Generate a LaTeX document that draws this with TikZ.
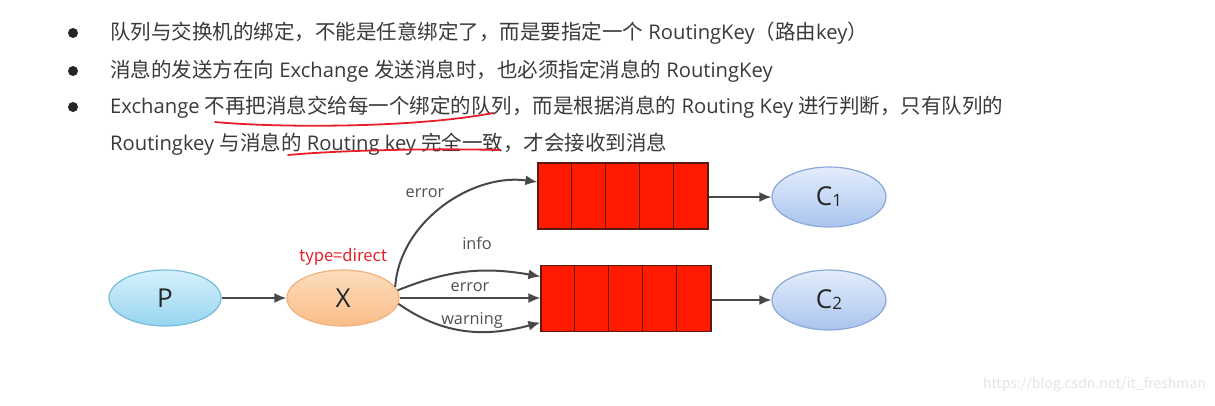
\documentclass[tikz,border=0pt]{standalone}
\usepackage{fontspec}
\setmainfont{Noto Sans CJK SC}
\newfontfamily\latfont{Open Sans}
\newcommand{\latw}[1]{{\latfont\fontsize{20.2}{22}\selectfont #1}}
\usetikzlibrary{arrows.meta,shapes.geometric}
\definecolor{txt}{HTML}{3A3A3A}
\definecolor{lbl}{HTML}{505050}
\definecolor{arr}{HTML}{484848}
\definecolor{qred}{HTML}{FF1A00}
\definecolor{qline}{HTML}{5A1A10}
\definecolor{pen}{HTML}{E8202A}
\definecolor{ptop}{HTML}{D6F1FC}
\definecolor{pbot}{HTML}{96D4F0}
\definecolor{pbrd}{HTML}{78BCD8}
\definecolor{xtop}{HTML}{FDDDBE}
\definecolor{xbot}{HTML}{F9BD88}
\definecolor{xbrd}{HTML}{F2B07A}
\definecolor{ctop}{HTML}{E4EDFB}
\definecolor{cbot}{HTML}{A9C4EE}
\definecolor{cbrd}{HTML}{8AA8D8}
\tikzset{
  bodytext/.style={anchor=west, inner sep=0pt, text=txt, font=\fontsize{20.5}{22}\selectfont},
  bulletdot/.style={circle, fill=black!85, minimum size=10pt, inner sep=0pt},
  ell/.style={ellipse, minimum width=112pt, minimum height=56pt, line width=1.2pt, font=\latfont\fontsize{26}{30}\selectfont, text=black!85},
  pell/.style={ell, draw=pbrd, top color=ptop, bottom color=pbot},
  xell/.style={ell, draw=xbrd, top color=xtop, bottom color=xbot},
  cell/.style={ell, minimum width=114pt, minimum height=60pt, draw=cbrd, top color=ctop, bottom color=cbot},
  queue/.style={rectangle, minimum width=170pt, minimum height=66pt, fill=qred, draw=qline, line width=1.2pt, inner sep=0pt},
  conn/.style={draw=arr, line width=2pt, -{Latex[length=12pt,width=10pt]}},
  edgelbl/.style={text=lbl, font=\latfont\fontsize{16.3}{18}\selectfont, inner sep=0pt},
  underl/.style={draw=pen, line width=1.8pt, line cap=round}
}
\begin{document}
\begin{tikzpicture}[x=1pt,y=1pt]
\useasboundingbox[fill=white] (0,0) rectangle (1215,-405);
% bullets
\node[bulletdot] (b1) at (73,-33) {};
\node[bulletdot] (b2) at (73,-71) {};
\node[bulletdot] (b3) at (73,-107) {};
\node[bodytext] (t1) at (110,-33) {队列与交换机的绑定，不能是任意绑定了，而是要指定一个\latw{ RoutingKey}（路由\latw{key}）};
\node[bodytext] (t2) at (110,-71) {消息的发送方在向\latw{ Exchange }发送消息时，也必须指定消息的\latw{ RoutingKey}};
\node[bodytext] (t3) at (110,-107) {\latw{Exchange }不再把消息交给每一个绑定的队列，而是根据消息的\latw{ Routing Key }进行判断，只有队列的};
\node[bodytext] (t4) at (110,-144) {\latw{Routingkey }与消息的\latw{ Routing key }完全一致，才会接收到消息};
% red hand underlines
\draw[underl] (215,-122) .. controls (280,-128) and (415,-128) .. (493,-113);
\draw[underl] (288,-155) .. controls (330,-151) and (420,-148) .. (500,-150);
% nodes
\node[pell] (P) at (165,-298) {P};
\node[xell] (X) at (343,-298) {X};
\node[text=pen, font=\fontsize{16.5}{18}\selectfont, inner sep=0pt] (type) at (343,-257) {type=direct};
\node[queue] (q1) at (623,-196) {};
\node[queue] (q2) at (626,-298.5) {};
\foreach \i in {1,2,3,4} {
  \draw[qline, line width=1.2pt] ([xshift=\i*34pt]q1.north west) -- ([xshift=\i*34pt]q1.south west);
  \draw[qline, line width=1.2pt] ([xshift=\i*34pt]q2.north west) -- ([xshift=\i*34pt]q2.south west);
}
\node[cell] (c1) at (829,-197) {C\raisebox{-1pt}{\fontsize{17}{20}\selectfont 1}};
\node[cell] (c2) at (829,-300) {C\raisebox{-1pt}{\fontsize{17}{20}\selectfont 2}};
% connectors
\draw[conn] (P) -- (X);
\draw[conn] (q1.east |- c1.west) -- (c1.west);
\draw[conn] (q2.east |- c2.west) -- (c2.west);
\draw[conn] (X.12) to[out=86, in=172, looseness=0.95] ([yshift=14pt]q1.west);
\draw[conn] (X.8) to[out=22, in=170] ([yshift=22pt]q2.west);
\draw[conn] (X.east) -- (q2.west |- X.east);
\draw[conn] (X.-6) to[out=-35, in=195] ([yshift=-24pt]q2.west);
% labels
\node[edgelbl] (le1) at (425,-193) {error};
\node[edgelbl] (li) at (477,-243) {info};
\node[edgelbl] (le2) at (470,-287) {error};
\node[edgelbl] (lw) at (472,-320) {warning};
% watermark
\node[text=black!10, font=\fontsize{14}{16}\selectfont, anchor=east, inner sep=0pt] (wm) at (1206,-385) {https://blog.csdn.net/it\_freshman};
\end{tikzpicture}
\end{document}
